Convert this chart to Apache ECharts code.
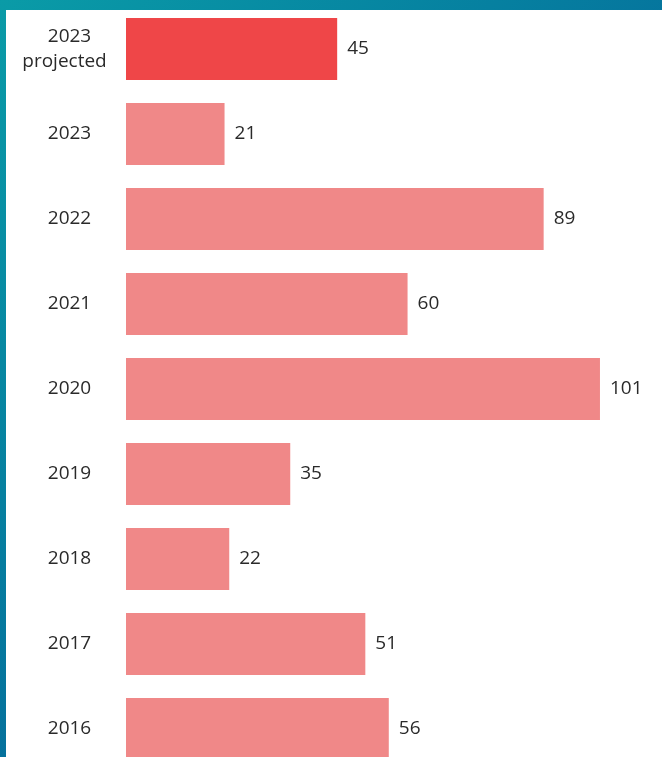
<!DOCTYPE html>
<html>
<head>
<meta charset="utf-8">
<script src="https://cdn.jsdelivr.net/npm/echarts@6/dist/echarts.min.js"></script>
<style>
  html, body { margin: 0; padding: 0; }
  body {
    width: 662px; height: 757px; overflow: hidden; position: relative;
    background: linear-gradient(135deg, #0a9ba7 0%, #0680a0 35%, #05689a 65%, #045585 100%);
  }
  #panel { position: absolute; left: 6px; top: 10px; right: 0; bottom: 0; background: #ffffff; }
  #chart { position: absolute; left: 0; top: 0; width: 662px; height: 790px; }
</style>
</head>
<body>
<div id="panel"></div>
<div id="chart"></div>
<script>
var categories = ["2023\nprojected", "2023", "2022", "2021", "2020", "2019", "2018", "2017", "2016"];
var values = [45, 21, 89, 60, 101, 35, 22, 51, 56];
var highlighted = [true, false, false, false, false, false, false, false, false];

var chart = echarts.init(document.getElementById('chart'), null, { renderer: 'canvas' });

var seriesData = values.map(function (v, i) {
  return {
    value: v,
    itemStyle: { color: highlighted[i] ? '#ef4648' : '#f08888' }
  };
});

var textColor = '#2a2a2a';

chart.setOption({
  backgroundColor: 'transparent',
  animation: false,
  grid: { left: 126, width: 516.2, top: 6.5, height: 765, containLabel: false, outerBoundsMode: 'none' },
  xAxis: {
    type: 'value', min: 0, max: 110,
    show: false
  },
  yAxis: {
    type: 'category',
    data: categories,
    inverse: true,
    axisLine: { show: false },
    axisTick: { show: false },
    splitLine: { show: false },
    axisLabel: {
      align: 'center',
      margin: 56.5,
      fontFamily: 'Open Sans',
      fontSize: 19,
      color: textColor,
      lineHeight: 25,
      formatter: function (val) {
        var parts = val.split('\n');
        if (parts.length > 1) {
          return '{a|' + parts[0] + '}\n{b|' + parts[1] + '}';
        }
        return '{a|' + val + '}';
      },
      rich: {
        a: { fontFamily: 'Open Sans', fontSize: 19, color: textColor, lineHeight: 25 },
        b: { fontFamily: 'Open Sans', fontSize: 19, color: textColor, lineHeight: 25, padding: [0, 10, 0, 0] }
      }
    }
  },
  series: [{
    type: 'bar',
    data: seriesData,
    barWidth: 62,
    label: {
      show: true,
      position: 'right',
      distance: 10,
      fontFamily: 'Open Sans',
      fontSize: 19,
      color: textColor
    }
  }]
});
</script>
</body>
</html>
